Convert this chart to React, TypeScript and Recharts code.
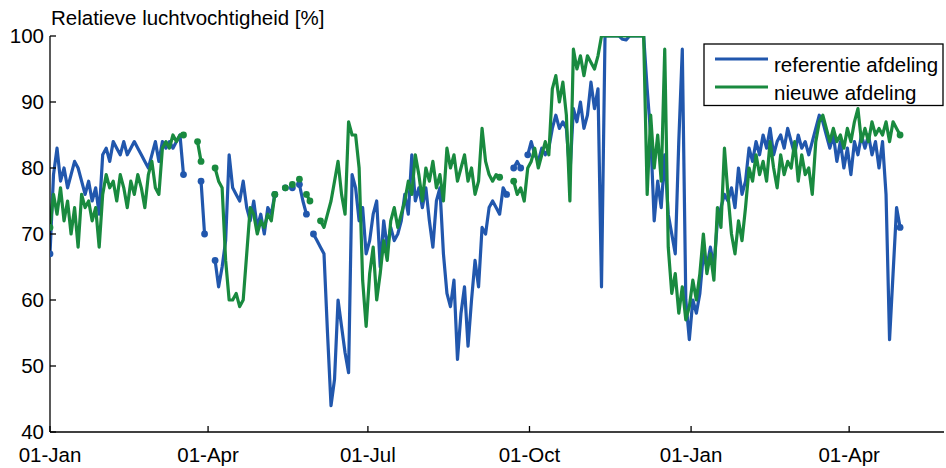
import React from 'react';
import { LineChart, Line, XAxis, YAxis } from 'recharts';

// Relative humidity, one sample every 2 days starting 01-Jan
const stepDays = 2;

const referentie: (number | null)[] = [
  67, 79, 83, 78, 80, 77, 79, 81, 80, 78,
  76, 78, 75, 77, 73, 82, 83, 81, 84, 83,
  82, 84, 82, 83, 84, 83, 82, 81, 80, 82,
  84, 81, 84, 83, 84, 83, 84, 85, 79, null,
  null, null, null, 78, 70, null, null, 66, 62, 65,
  69, 82, 77, 76, 75, 78, 74, 72, 75, 71,
  73, 70, 74, 73, 76, null, null, 77, null, 77,
  null, 77.5, 75, 73, null, 70, 69, 68, 67, 55,
  44, 48, 60, 56, 52, 49, 79, 77, 72, 74,
  67, 69, 73, 75, 65, 72, 68, 71, 69, 70,
  72, 76, 73, 82, 75, 77, 74, 77, 72, 68,
  75, 77, 67, 61, 59, 63, 51, 58, 62, 53,
  60, 66, 62, 71, 70, 74, 75, 74, 73, 77,
  76, null, 80, 81, 80, null, 82, 84, 82, 81,
  83, 82, 83, 86, 88, 86, 87, 86, 79, 89,
  87, 90, 86, 88, 93, 89, 92, 62, 100, 100,
  100, 100, 100, 99.5, 99.4, 100, 100, 100, 100, 100,
  92, 85, 72, 78, 74, 82, 73, 70, 67, 84,
  98, 60, 54, 60, 58, 61, 67, 65, 68, 65,
  72, 74, 76, 75, 77, 74, 80, 76, 78, 83,
  81, 84, 82, 85, 83, 86, 82, 84, 85, 83,
  86, 84, 82, 85, 83, 84, 82, 84, 86, 88,
  87, 85, 83, 85, 81, 84, 80, 83, 79, 84,
  82, 85, 83, 85, 82, 84, 80, 84, 76, 54,
  64, 74, 71,
];

const nieuwe: (number | null)[] = [
  71, 76, 73, 77, 72, 75, 70, 74, 68, 76,
  74, 75, 72, 74, 68, 76, 79, 77, 78, 75,
  79, 77, 74, 78, 76, 79, 77, 74, 79, 81,
  77, 76, 83, 84, 83, 85, 84, 85, 85, null,
  null, null, 84, 81, null, null, null, 80, 78, 77,
  66, 60, 60, 61, 59, 60, 67, 74, 73, 70,
  72, 71, 73, 72, 76, null, null, 77, null, 77.5,
  null, 78.3, null, 76, 75, null, null, 72, 71, 73,
  75, 78, 81, 76, 73, 87, 85, 85, 80, 63,
  56, 64, 68, 60, 64, 69, 66, 72, 74, 71,
  73, 75, 78, 76, 82, 79, 75, 80, 78, 81,
  77, 79, 75, 83, 80, 82, 78, 80, 82, 78,
  80, 76, 78, 86, 81, 79, 78, 79, 78.6, null,
  null, null, 78, 76, 77, 75, 80, 81, 83, 80,
  82, 84, 82, 92, 94, 90, 93, 88, 75, 98,
  95, 97, 94, 97, 96, 95, 97, 100, 100, 100,
  100, 100, 100, 100, 100, 100, 100, 100, 100, 100,
  76, 88, 80, 85, 78, 98, 68, 61, 64, 58,
  62, 57, 59, 63, 60, 64, 70, 64, 67, 63,
  74, 71, 83, 76, 70, 67, 72, 69, 74, 80,
  78, 82, 79, 81, 78, 84, 80, 77, 82, 79,
  81, 80, 84, 78, 82, 79, 80, 76, 84, 87,
  88, 86, 84, 86, 84, 85, 83, 86, 84, 87,
  89, 84, 86, 84, 87, 85, 86, 85, 87, 84,
  87, 86, 85,
];

const xTickDays = [0, 90, 181, 273, 365, 455];
const xTickLabels = ['01-Jan', '01-Apr', '01-Jul', '01-Oct', '01-Jan', '01-Apr'];
const yTicks = [40, 50, 60, 70, 80, 90, 100];
const xDomain = [0, 509];
const yDomain = [40, 100];

const seriesNames = ['referentie afdeling', 'nieuwe afdeling'];
const BLUE = '#2157ad';
const GREEN = '#198a3f';
const FONT = '"Liberation Sans", Arial, Helvetica, sans-serif';
const FS = 20.5;

const data = referentie.map((v, i) => ({
  day: i * stepDays,
  ref: v,
  nw: nieuwe[i],
}));

const makeDot = (key: 'ref' | 'nw', color: string) => (props: any) => {
  const { cx, cy, index, value } = props;
  const k = `${key}-${index}`;
  if (value == null || cx == null || cy == null) return <g key={k} />;
  const prev = index > 0 ? data[index - 1][key] : null;
  const next = index < data.length - 1 ? data[index + 1][key] : null;
  if (prev == null || next == null) {
    return <circle key={k} cx={cx} cy={cy} r={3.4} fill={color} stroke="none" />;
  }
  return <g key={k} />;
};

const BottomTick = (props: any) => {
  const { x, y, payload } = props;
  const i = xTickDays.indexOf(payload.value);
  return (
    <g>
      <line x1={x} y1={y} x2={x} y2={y - 6} stroke="#000" strokeWidth={1.3} />
      <text x={x} y={y + 30} textAnchor="middle" fontSize={FS} fontFamily={FONT} fill="#000">
        {xTickLabels[i]}
      </text>
    </g>
  );
};

const TopTick = (props: any) => {
  const { x, y } = props;
  return <line x1={x} y1={y} x2={x} y2={y + 6} stroke="#000" strokeWidth={1.3} />;
};

const LeftTick = (props: any) => {
  const { x, y, payload } = props;
  return (
    <g>
      <line x1={x} y1={y} x2={x + 6} y2={y} stroke="#000" strokeWidth={1.3} />
      <text x={x - 6} y={y + 7} textAnchor="end" fontSize={FS} fontFamily={FONT} fill="#000">
        {payload.value}
      </text>
    </g>
  );
};

const RightTick = (props: any) => {
  const { x, y } = props;
  return <line x1={x} y1={y} x2={x - 6} y2={y} stroke="#000" strokeWidth={1.3} />;
};

export default function App() {
  return (
    <div style={{ position: 'absolute', left: 0, top: 0, width: 946, height: 468, background: '#fff' }}>
      <LineChart
        width={946}
        height={468}
        data={data}
        margin={{ top: 36, right: 2, bottom: 0, left: 0 }}
      >
        <XAxis
          dataKey="day"
          type="number"
          domain={xDomain}
          ticks={xTickDays}
          interval={0}
          height={36}
          tickSize={0}
          tickMargin={0}
          tickLine={false}
          tick={<BottomTick />}
          axisLine={{ stroke: '#000', strokeWidth: 1.3 }}
          allowDataOverflow
        />
        <XAxis
          xAxisId="top"
          orientation="top"
          dataKey="day"
          type="number"
          domain={xDomain}
          ticks={xTickDays}
          interval={0}
          height={0}
          tickSize={0}
          tickMargin={0}
          tickLine={false}
          tick={<TopTick />}
          axisLine={{ stroke: '#000', strokeWidth: 1.3 }}
          allowDataOverflow
        />
        <YAxis
          type="number"
          domain={yDomain}
          ticks={yTicks}
          interval={0}
          width={50}
          tickSize={0}
          tickMargin={0}
          tickLine={false}
          tick={<LeftTick />}
          axisLine={{ stroke: '#000', strokeWidth: 1.3 }}
          allowDataOverflow
        />
        <YAxis
          yAxisId="right"
          orientation="right"
          type="number"
          domain={yDomain}
          ticks={yTicks}
          interval={0}
          width={0}
          tickSize={0}
          tickMargin={0}
          tickLine={false}
          tick={<RightTick />}
          axisLine={{ stroke: '#000', strokeWidth: 1.3 }}
          allowDataOverflow
        />
        <Line
          dataKey="ref"
          name={seriesNames[0]}
          stroke={BLUE}
          strokeWidth={3.2}
          dot={makeDot('ref', BLUE)}
          activeDot={false}
          isAnimationActive={false}
          connectNulls={false}
          strokeLinejoin="round"
        />
        <Line
          dataKey="nw"
          name={seriesNames[1]}
          stroke={GREEN}
          strokeWidth={3.2}
          dot={makeDot('nw', GREEN)}
          activeDot={false}
          isAnimationActive={false}
          connectNulls={false}
          strokeLinejoin="round"
        />
      </LineChart>
      <svg
        width={946}
        height={468}
        style={{ position: 'absolute', left: 0, top: 0, pointerEvents: 'none' }}
      >
        <text x={51} y={25} fontSize={FS} fontFamily={FONT} fill="#000">
          Relatieve luchtvochtigheid [%]
        </text>
        <rect x={704} y={44} width={239} height={61.5} fill="#fff" stroke="#000" strokeWidth={1.3} />
        <line x1={715} y1={59} x2={768} y2={59} stroke={BLUE} strokeWidth={3} />
        <text x={774} y={72} fontSize={FS} fontFamily={FONT} fill="#000">
          {seriesNames[0]}
        </text>
        <line x1={715} y1={87} x2={768} y2={87} stroke={GREEN} strokeWidth={3} />
        <text x={774} y={100} fontSize={FS} fontFamily={FONT} fill="#000">
          {seriesNames[1]}
        </text>
      </svg>
    </div>
  );
}
